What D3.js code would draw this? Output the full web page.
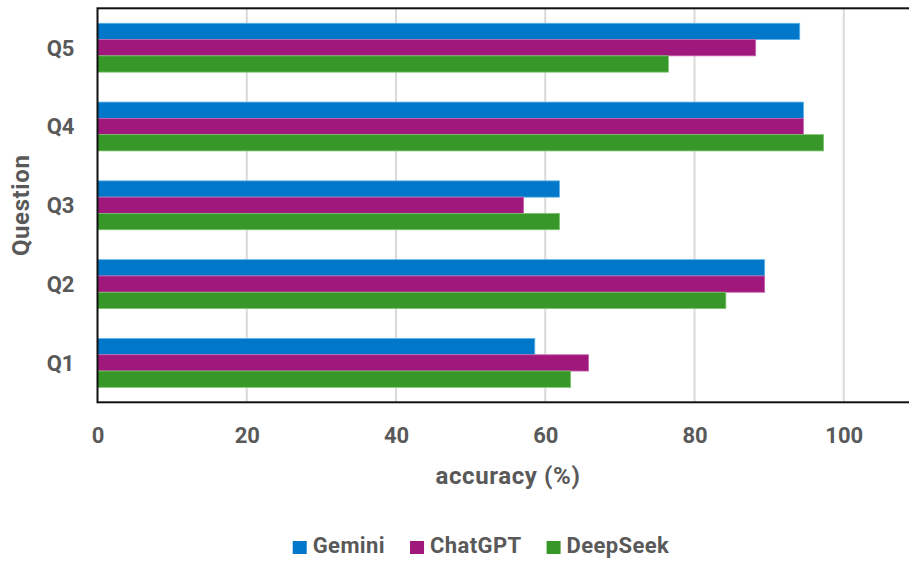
<!DOCTYPE html>
<html>
<head>
<meta charset="utf-8">
<script src="https://cdn.jsdelivr.net/npm/d3@7"></script>
<style>
  body { margin: 0; background: #fff; }
  text { font-family: Roboto, "Liberation Sans", Arial, sans-serif; font-weight: bold; fill: #595959; }
</style>
</head>
<body>
<div id="chart-area"></div>
<script>
// data
var questions = ["Q1", "Q2", "Q3", "Q4", "Q5"]
var seriesNames = ["Gemini", "ChatGPT", "DeepSeek"]
var gemini   = [58.6, 89.4, 61.9, 94.6, 94.1]
var chatgpt  = [65.8, 89.4, 57.1, 94.6, 88.2]
var deepseek = [63.4, 84.2, 61.9, 97.3, 76.5]
var xTicks = [0, 20, 40, 60, 80, 100]
var gridTicks = [20, 40, 60, 80, 100, 120]

var colors = { Gemini: "#0077c8", ChatGPT: "#a0187c", DeepSeek: "#379728" }
var strokes = { Gemini: "#5fb3ea", ChatGPT: "#c866b0", DeepSeek: "#7cc46e" }

var W = 909, H = 562
var margin = { left: 97.5, top: 8.3, bottom: 159.7 }
var height = H - margin.top - margin.bottom
var plotRight = 993   // the plot runs on past the right edge of the picture

var svg = d3.select("#chart-area").append("svg")
    .attr("width", W)
    .attr("height", H)

var x = d3.scaleLinear()
  .domain([0, 120])
  .range([margin.left, plotRight])

var y = d3.scaleBand()
  .domain(questions.slice().reverse())
  .range([margin.top, margin.top + height])
  .paddingInner(0.38)
  .paddingOuter(0.19)

var ySub = d3.scaleBand()
  .domain(seriesNames)
  .range([0, y.bandwidth()])

var rows = questions.map(function(q, i) {
  return { q: q, values: [
    { name: "Gemini", v: gemini[i] },
    { name: "ChatGPT", v: chatgpt[i] },
    { name: "DeepSeek", v: deepseek[i] }
  ] }
})

// gridlines
svg.append("g")
  .selectAll("line")
  .data(gridTicks)
  .enter().append("line")
    .attr("x1", function(d) { return x(d) })
    .attr("x2", function(d) { return x(d) })
    .attr("y1", margin.top)
    .attr("y2", margin.top + height)
    .attr("stroke", "#d9d9d9")
    .attr("stroke-width", 2)

// bars
var groups = svg.append("g").selectAll("g")
  .data(rows)
  .enter().append("g")
    .attr("transform", function(d) { return "translate(0," + y(d.q) + ")" })

groups.selectAll("rect")
  .data(function(d) { return d.values })
  .enter().append("rect")
    .attr("x", x(0))
    .attr("y", function(d) { return ySub(d.name) })
    .attr("width", function(d) { return x(d.v) - x(0) })
    .attr("height", ySub.bandwidth())
    .attr("fill", function(d) { return colors[d.name] })
    .attr("stroke", function(d) { return strokes[d.name] })
    .attr("stroke-width", 0.8)

// frame
svg.append("rect")
  .attr("x", margin.left)
  .attr("y", margin.top)
  .attr("width", plotRight - margin.left)
  .attr("height", height)
  .attr("fill", "none")
  .attr("stroke", "#111")
  .attr("stroke-width", 2)

// x axis
var xAxisCall = d3.axisBottom(x)
  .tickValues(xTicks)
  .tickSize(0)
  .tickPadding(0)

var xAxisGroup = svg.append("g")
  .attr("transform", "translate(0," + (margin.top + height) + ")")
  .call(xAxisCall)
xAxisGroup.select(".domain").remove()
xAxisGroup.selectAll("text")
  .attr("dy", null)
  .attr("y", 41)
  .attr("font-size", "22px")
  .attr("fill", "#595959")

// y axis
var yAxisCall = d3.axisLeft(y)
  .tickSize(0)
  .tickPadding(0)

var yAxisGroup = svg.append("g")
  .attr("transform", "translate(" + margin.left + ",0)")
  .call(yAxisCall)
yAxisGroup.select(".domain").remove()
yAxisGroup.selectAll("text")
  .attr("x", -23)
  .attr("dy", "0.36em")
  .attr("font-size", "22px")
  .attr("fill", "#595959")

// axis titles
svg.append("text")
  .attr("x", 508)
  .attr("y", 484)
  .attr("text-anchor", "middle")
  .attr("font-size", "24px")
  .attr("letter-spacing", "0.6px")
  .text("accuracy (%)")

svg.append("text")
  .attr("transform", "translate(29," + (margin.top + height / 2) + ") rotate(-90)")
  .attr("text-anchor", "middle")
  .attr("font-size", "24px")
  .attr("letter-spacing", "0.6px")
  .text("Question")

// legend
var legend = svg.append("g")
var lx = 0
seriesNames.forEach(function(name) {
  var item = legend.append("g").attr("transform", "translate(" + lx + ",0)")
  item.append("rect")
    .attr("x", 0).attr("y", -12)
    .attr("width", 14).attr("height", 13)
    .attr("fill", colors[name])
  var t = item.append("text")
    .attr("x", 20)
    .attr("y", 0)
    .attr("font-size", "22px")
    .attr("letter-spacing", "0.4px")
    .text(name)
  lx += 20 + t.node().getComputedTextLength() + 25
})
var legendWidth = lx - 25
legend.attr("transform", "translate(" + (481 - legendWidth / 2) + ",553)")
</script>
</body>
</html>
